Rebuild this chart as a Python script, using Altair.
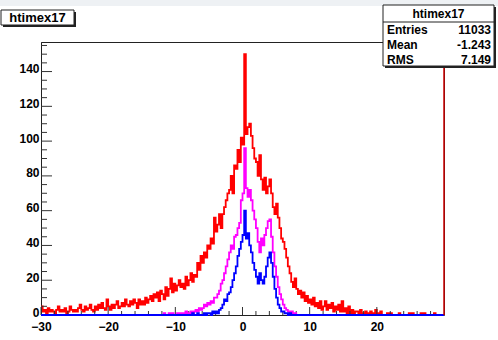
import altair as alt
import pandas as pd

# ---------------- data ----------------
x_min, x_max, bin_w = -30.0, 30.0, 0.25
hist_name = "htimex17"
stat_labels = ["Entries", "Mean", "RMS"]
stat_values = ["11033", "-1.243", "7.149"]

x_major = [-30, -20, -10, 0, 10, 20]
y_major = [0, 20, 40, 60, 80, 100, 120, 140]
x_minor = [-28, -26, -24, -22, -18, -16, -14, -12, -8, -6, -4, -2,
           2, 4, 6, 8, 12, 14, 16, 18, 22, 24, 26, 28]
y_minor = [5, 10, 15, 25, 30, 35, 45, 50, 55, 65, 70, 75, 85, 90, 95,
           105, 110, 115, 125, 130, 135, 145, 150, 155]

red_start = -30.0
red_vals = [
    5, 2, 3, 1,   4, 2, 3, 2,   1, 3, 5, 2,   3, 2, 4, 1,   2, 5, 3, 2,
    3, 2, 4, 6,   3, 2, 5, 3,   4, 6, 3, 2,   5, 3, 6, 4,   7, 4, 3, 9,
    5, 3, 6, 4,   6, 8, 4, 5,   7, 5, 9, 6,   5, 8, 6, 9,   7, 4, 9, 6,
    8, 6, 10, 7,  9, 11, 8, 12, 10, 13, 8, 14, 12, 9, 16, 11, 15, 21, 13, 18,
    14, 17, 20, 16, 18, 15, 22, 17, 20, 24, 19, 23, 22, 30, 26, 34, 30, 36, 33, 40,
    38, 44, 41, 56, 48, 52, 58, 50, 58, 62, 66, 70, 72, 80, 70, 86, 84, 95, 88, 102,
    98, 150, 104, 108, 110, 103, 96, 90, 88, 80, 92, 78, 72, 79, 70, 74, 78, 70, 62, 58,
    64, 56, 50, 44, 42, 38, 33, 28, 24, 19, 16, 21, 15, 12, 14, 10, 13, 8, 11, 7,
    9, 6, 10, 5,  7, 4, 8, 3,   5, 8, 3, 6,   4, 7, 2, 5,   3, 6, 2, 8,
    2, 4, 1, 5,   1, 3, 0, 2,   2, 1, 3, 0,   1, 2, 0, 1,   2, 0, 1, 3,
    0, 1, 2, 0,   0, 0, 1, 0,   1, 0, 0, 0,   0, 1, 0, 0,   0, 0, 0, 1,
    0, 1, 0, 0,   0, 0, 1, 0,   1, 0, 0, 0,   0, 0, 1, 0,   0, 0, 0, 0,
]

magenta_start = -12.0
magenta_vals = [
    0, 1, 0, 0,   1, 0, 1, 0,   0, 1, 1, 0,   1, 0, 2, 1,   1, 2, 1, 2,
    3, 2, 4, 3,   4, 6, 5, 7,   6, 8, 7, 10,  10, 12, 14, 18, 20, 24, 28, 32,
    36, 40, 38, 45, 46, 50, 53, 66, 70, 96, 73, 68, 72, 66, 60, 55, 50, 42, 36, 44,
    40, 46, 50, 54, 55, 45, 36, 28, 22, 16, 12, 9, 6, 4, 3, 2,  1, 2, 0, 1,
]

blue_start = -8.0
blue_vals = [
    0, 0, 1, 0,   0, 1, 0, 0,   0, 1, 0, 1,   1, 0, 2, 1,   2, 1, 3, 4,
    6, 9, 8, 12,  13, 16, 20, 24, 28, 34, 38, 42, 46, 60, 44, 47, 40, 36, 30, 26,
    22, 18, 24, 20, 18, 22, 28, 33, 36, 30, 22, 15, 10, 6, 4, 2,  2, 1, 1, 0,
    1, 0, 0, 0,
]

# ---------------- helpers ----------------
N = int(round((x_max - x_min) / bin_w))
edges = [x_min + i * bin_w for i in range(N)] + [x_max]


def series(vals, start):
    pad = int(round((start - x_min) / bin_w))
    full = [0] * pad + list(vals) + [0] * (N - pad - len(vals))
    full = full + [full[-1]]
    return pd.DataFrame({"x": edges, "y": full})


W, H = 403, 273
FONT = "Liberation Sans"

xscale = alt.Scale(domain=[x_min, x_max], nice=False, zero=False)
yscale = alt.Scale(domain=[0, 157], nice=False, zero=True)

x_axis = alt.Axis(values=x_major, ticks=False, domain=False, grid=False, title=None,
                  labelFont=FONT, labelFontSize=12, labelFontWeight="bold",
                  labelColor="black", labelPadding=6, labelFlush=False,
                  labelOverlap=False, format="d")
y_axis = alt.Axis(values=y_major, ticks=False, domain=True, domainColor="#222",
                  grid=False, title=None,
                  labelFont=FONT, labelFontSize=12, labelFontWeight="bold",
                  labelColor="black", labelPadding=2, labelOffset=-3, labelFlush=False,
                  labelOverlap=False, format="d")

X = lambda f="x": alt.X(f + ":Q", scale=xscale, axis=x_axis)
Y = lambda f="y": alt.Y(f + ":Q", scale=yscale, axis=y_axis)


def hist_layer(df, color):
    return alt.Chart(df).mark_line(interpolate="step-after", color=color,
                                   strokeWidth=1.8).encode(x=X(), y=Y())


red = hist_layer(series(red_vals, red_start), "#ff0000")
mag = hist_layer(series(magenta_vals, magenta_start), "#ff00ff")
blu = hist_layer(series(blue_vals, blue_start), "#0000ff")

# ticks drawn inside the frame
xmaj = alt.Chart(pd.DataFrame({"x": x_major})).mark_rule(color="#333", strokeWidth=1).encode(
    x=X(), y=alt.value(H), y2=alt.value(H - 8))
xmin_ = alt.Chart(pd.DataFrame({"x": x_minor})).mark_rule(color="#333", strokeWidth=1).encode(
    x=X(), y=alt.value(H), y2=alt.value(H - 4))
ymaj = alt.Chart(pd.DataFrame({"y": y_major})).mark_rule(color="#333", strokeWidth=1).encode(
    y=Y(), x=alt.value(0), x2=alt.value(11))
ymin_ = alt.Chart(pd.DataFrame({"y": y_minor})).mark_rule(color="#333", strokeWidth=1).encode(
    y=Y(), x=alt.value(0), x2=alt.value(6))

# right edge (red)
redge = alt.Chart(pd.DataFrame({"x": [x_max]})).mark_rule(color="#cc0000", strokeWidth=1.5).encode(
    x=X(), y=alt.value(0), y2=alt.value(H))

one = pd.DataFrame({"a": [0]})


def box(x1, x2, y1, y2, fill, stroke=None):
    kw = dict(fill=fill)
    if stroke:
        kw.update(stroke=stroke, strokeWidth=1)
    return alt.Chart(one).mark_rect(**kw).encode(
        x=alt.value(x1), x2=alt.value(x2), y=alt.value(y1), y2=alt.value(y2))


def label(txt, x, y, align="center", size=12):
    return alt.Chart(one).mark_text(text=txt, font=FONT, fontSize=size, fontWeight="bold",
                                    color="black", align=align, baseline="middle").encode(
        x=alt.value(x), y=alt.value(y))


ox, oy = 41, 42  # plot origin in page pixels
# title box
tb = [box(1 - ox + 2, 74 - ox + 2, 10 - oy + 2, 25 - oy + 2, "#222"),
      box(1 - ox, 74 - ox, 10 - oy, 25 - oy, "white", "#222"),
      label(hist_name, 37.5 - ox, 17.5 - oy, size=13)]

# stats box
sx1, sx2, sy1, sy2 = 383, 494, 5, 66
sb = [box(sx1 - ox + 2, sx2 - ox + 2, sy1 - oy + 2, sy2 - oy + 2, "#222"),
      box(sx1 - ox, sx2 - ox, sy1 - oy, sy2 - oy, "white", "#222"),
      alt.Chart(one).mark_rule(color="#222", strokeWidth=1).encode(
          x=alt.value(sx1 - ox), x2=alt.value(sx2 - ox), y=alt.value(22 - oy)),
      label(hist_name, (sx1 + sx2) / 2 - ox, 14 - oy)]
for i, (l, v) in enumerate(zip(stat_labels, stat_values)):
    yy = 30 + 15 * i - oy
    sb.append(label(l, 387 - ox, yy, align="left"))
    sb.append(label(v, 491 - ox, yy, align="right"))

top_band = box(-ox, 498 - ox, -oy, 6 - oy, "#eef1f4")

chart = alt.layer(
    red, top_band, xmin_, xmaj, ymin_, ymaj, mag, blu, redge, *tb, *sb
).properties(
    width=W, height=H,
    padding={"left": ox, "top": oy, "right": 498 - ox - W, "bottom": 340 - oy - H},
    autosize=alt.AutoSizeParams(type="none"),
    background="white",
).configure_view(stroke="#222", strokeWidth=1)

chart.save("out.html", embed_options={"renderer": "svg", "actions": False})
